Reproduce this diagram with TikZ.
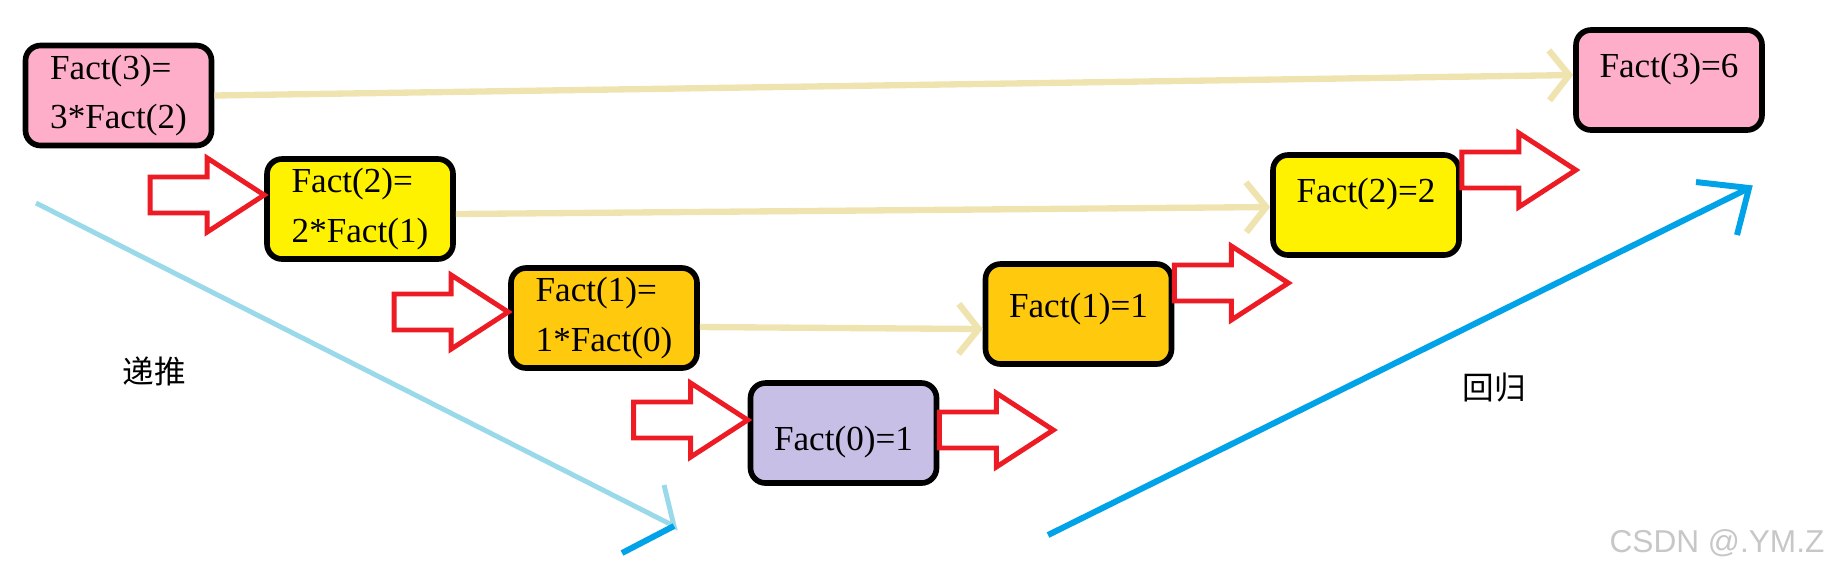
\documentclass[tikz,border=0pt]{standalone}
\usepackage{fontspec}
\setmainfont{Liberation Serif}
\newfontfamily\cjk{Noto Sans CJK SC}
\newfontfamily\markfont{Liberation Sans}
\usetikzlibrary{arrows.meta}
\definecolor{rose}{RGB}{255,174,201}
\definecolor{lemon}{RGB}{255,242,0}
\definecolor{gold}{RGB}{255,201,14}
\definecolor{lilac}{RGB}{200,191,231}
\definecolor{paletan}{RGB}{239,228,176}
\definecolor{skyblue}{RGB}{153,217,234}
\definecolor{deepblue}{RGB}{0,162,232}
\definecolor{paintred}{RGB}{237,28,36}
\tikzset{
	factbox/.style={draw=black, line width=1.6pt, rounded corners=0.15cm, minimum width=1.86cm, minimum height=1.0cm, inner sep=0pt, align=left, font=\fontsize{10pt}{14.2pt}\selectfont},
	redarrow/.style={draw=paintred, line width=1.4pt},
	tanline/.style={draw=paletan, line width=1.8pt, -{Straight Barb[length=0.2cm,width=0.5cm]}},
	downline/.style={draw=skyblue, line width=1.4pt},
	upline/.style={draw=deepblue, line width=1.7pt}
}
\def\redarrow(#1){\draw[redarrow] (#1) ++(0,0.18) -- ++(0.57,0) -- ++(0,0.19) -- ++(0.57,-0.37) -- ++(-0.57,-0.37) -- ++(0,0.19) -- ++(-0.57,0) -- cycle;}

\begin{document}
\begin{tikzpicture}
			%%%%% START %%%%%
			\useasboundingbox (0,0) rectangle (18.31,-5.76);
			
			\node[factbox, fill=rose] (f3) at (1.185,-0.955) {Fact(3)=\\3*Fact(2)};
			\node[factbox, fill=lemon] (f2) at (3.60,-2.09) {Fact(2)=\\2*Fact(1)};
			\node[factbox, fill=gold] (f1) at (6.04,-3.18) {Fact(1)=\\1*Fact(0)};
			\node[factbox, fill=lilac, text height=0.42cm, text depth=0.08cm] (f0) at (8.435,-4.33) {Fact(0)=1};
			
			\node[factbox, fill=gold, text height=0.26cm, text depth=0.20cm] (v1) at (10.785,-3.14) {Fact(1)=1};
			\node[factbox, fill=lemon, text height=0.26cm, text depth=0.31cm] (v2) at (13.66,-2.05) {Fact(2)=2};
			\node[factbox, fill=rose, text height=0.26cm, text depth=0.31cm] (v3) at (16.69,-0.80) {Fact(3)=6};
			
			\draw[tanline] (f3.east) -- ([yshift=0.05cm]v3.west);
			\draw[tanline] ([yshift=-0.05cm]f2.east) -- ([yshift=-0.02cm]v2.west);
			\draw[tanline] ([yshift=-0.09cm]f1.east) -- ([yshift=-0.15cm]v1.west);
			
			\redarrow([xshift=-1.14cm,yshift=0.14cm]f2.west)
			\redarrow([xshift=-1.14cm,yshift=0.06cm]f1.west)
			\redarrow([xshift=-1.14cm,yshift=0.13cm]f0.west)
			\redarrow([yshift=0.03cm]f0.east)
			\redarrow([yshift=0.31cm]v1.east)
			\redarrow([yshift=0.35cm]v2.east)
			
			\coordinate (ds) at (0.36,-2.03);
			\coordinate (dt) at (6.74,-5.26);
			\coordinate (db) at (6.64,-4.85);
			\coordinate (dc) at (6.22,-5.53);
			\draw[downline] (ds) -- (dt) -- (db);
			\draw[upline] (dt) -- (dc);
			
			\coordinate (us) at (10.48,-5.35);
			\coordinate (ut) at (17.49,-1.88);
			\coordinate (ub) at (16.96,-1.82);
			\coordinate (uc) at (17.37,-2.35);
			\draw[upline] (us) -- (ut);
			\draw[upline] (ub) -- (ut) -- (uc);
			
			\node[font=\cjk\fontsize{9pt}{9pt}\selectfont] (push) at (1.54,-3.71) {递推};
			\node[font=\cjk\fontsize{9pt}{9pt}\selectfont] (back) at (14.94,-3.88) {回归};
			
			\node[text=black!22, font=\markfont\fontsize{9pt}{9pt}\selectfont] (mark) at (17.17,-5.43) {CSDN @.YM.Z};
			
			%%%%% END %%%%%
\end{tikzpicture}
\end{document}
